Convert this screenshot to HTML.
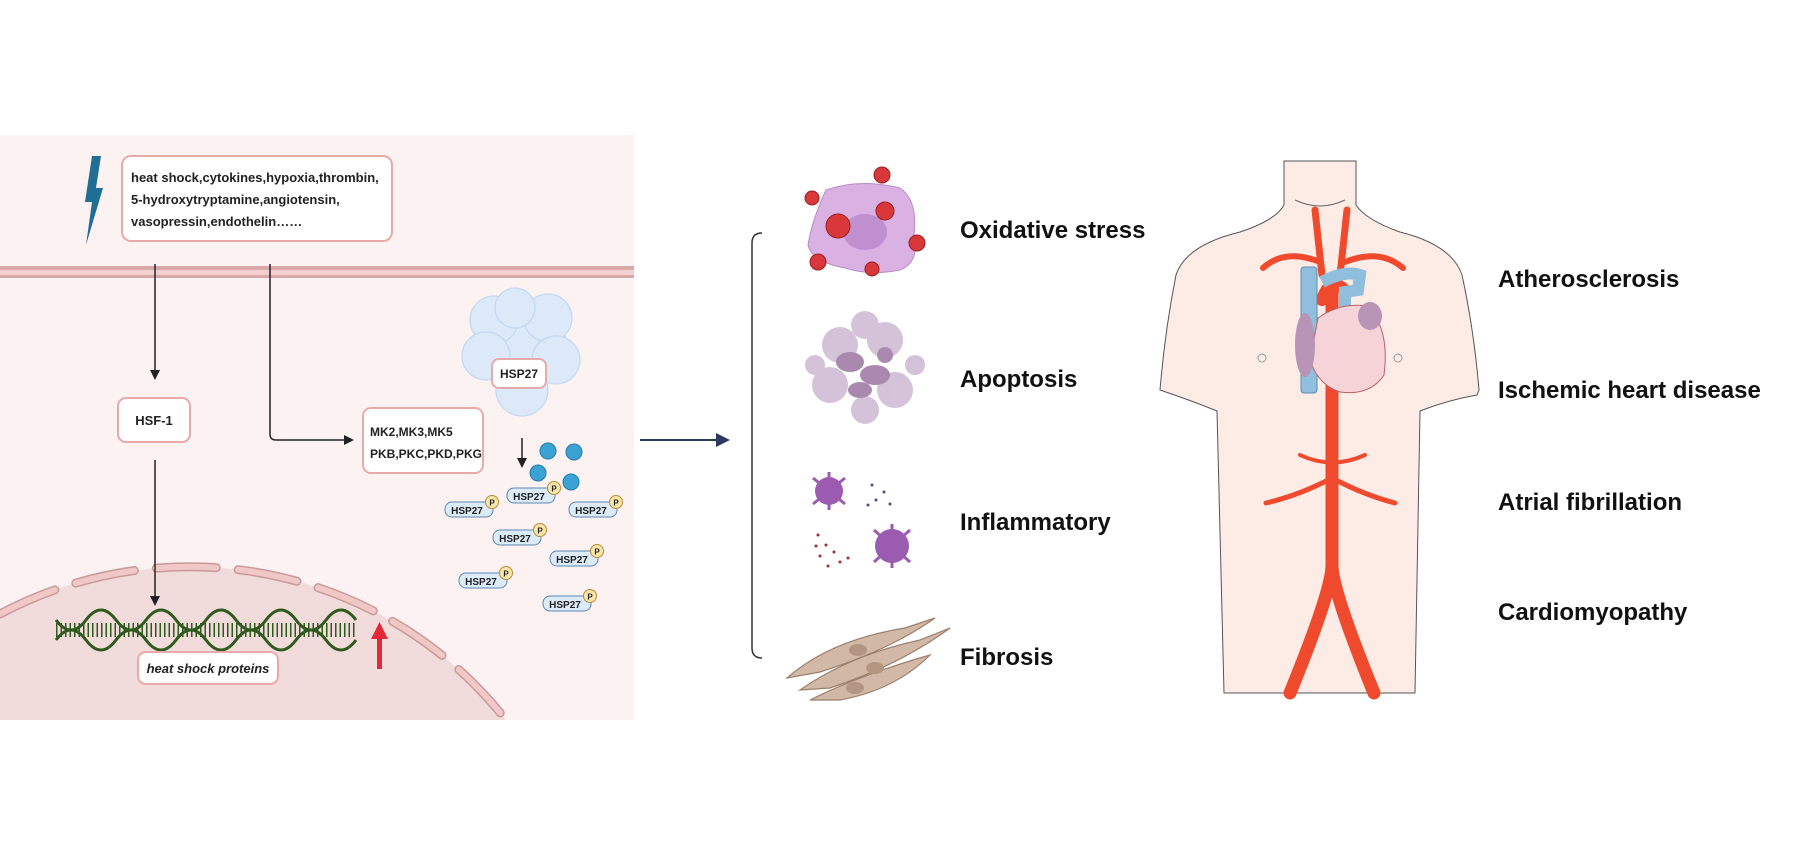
<!DOCTYPE html>
<html><head><meta charset="utf-8"><style>
html,body{margin:0;padding:0;background:#fff;width:1800px;height:866px;overflow:hidden}
svg{display:block}
text{font-family:"Liberation Sans",sans-serif}
</style></head><body>
<svg width="1800" height="866" viewBox="0 0 1800 866" xmlns="http://www.w3.org/2000/svg">
<defs>
<marker id="ah" markerWidth="10" markerHeight="10" refX="8" refY="5" orient="auto" markerUnits="userSpaceOnUse"><path d="M0,0 L10,5 L0,10 z" fill="#222"/></marker>
<marker id="ahn" markerWidth="14" markerHeight="14" refX="12" refY="7" orient="auto" markerUnits="userSpaceOnUse"><path d="M0,0 L14,7 L0,14 z" fill="#2b3a5e"/></marker>
</defs>
<rect x="0" y="135" width="634" height="585" fill="#fdf2f2"/>
<path d="M0,614 A400,395 0 0,1 506,720 L0,720 Z" fill="#f2dbdb"/>
<path d="M0,614 A400,395 0 0,1 506,720" fill="none" stroke="#c99a9a" stroke-width="9" stroke-dasharray="60 22" stroke-linecap="round"/>
<path d="M0,614 A400,395 0 0,1 506,720" fill="none" stroke="#f0c8c8" stroke-width="6" stroke-dasharray="60 22" stroke-linecap="round"/>
<rect x="0" y="266" width="634" height="4" fill="#d9a9a9"/>
<rect x="0" y="270" width="634" height="5" fill="#f4cfcf"/>
<rect x="0" y="275" width="634" height="3" fill="#d9a9a9"/>
<path d="M92,156 L101,156 L96,188 L103,188 L86,245 L92,202 L85,202 Z" fill="#1f6f95"/>
<rect x="122" y="156" width="270" height="85" rx="9" fill="#fff" stroke="#e8a9a9" stroke-width="2"/>
<text font-size="13" font-weight="bold" fill="#222"><tspan x="131" y="182">heat shock,cytokines,hypoxia,thrombin,</tspan><tspan x="131" y="204">5-hydroxytryptamine,angiotensin,</tspan><tspan x="131" y="226">vasopressin,endothelin……</tspan></text>
<line x1="155" y1="264" x2="155" y2="378" stroke="#222" stroke-width="1.5" marker-end="url(#ah)"/>
<rect x="118" y="398" width="72" height="44" rx="8" fill="#fff" stroke="#e8a9a9" stroke-width="2"/>
<text x="154" y="425" font-size="13" font-weight="bold" fill="#222" text-anchor="middle">HSF-1</text>
<line x1="155" y1="460" x2="155" y2="604" stroke="#222" stroke-width="1.5" marker-end="url(#ah)"/>
<path d="M270,264 L270,434 Q270,440 276,440 L352,440" fill="none" stroke="#222" stroke-width="1.5" marker-end="url(#ah)"/>
<rect x="363" y="408" width="120" height="65" rx="8" fill="#fff" stroke="#e8a9a9" stroke-width="2"/>
<text font-size="12" font-weight="bold" fill="#222"><tspan x="370" y="436">MK2,MK3,MK5</tspan><tspan x="370" y="458">PKB,PKC,PKD,PKG</tspan></text>
<g fill="#dbe9f8" stroke="#c3d9f0" stroke-width="1.2">
<circle cx="520" cy="344" r="46"/><circle cx="494" cy="320" r="24"/><circle cx="548" cy="318" r="24"/><circle cx="486" cy="356" r="24"/><circle cx="556" cy="360" r="24"/><circle cx="522" cy="390" r="26"/><circle cx="515" cy="308" r="20"/>
</g>
<rect x="492" y="359" width="54" height="29" rx="7" fill="#fff" stroke="#e8a9a9" stroke-width="2"/>
<text x="519" y="378" font-size="12" font-weight="bold" fill="#222" text-anchor="middle">HSP27</text>
<line x1="522" y1="438" x2="522" y2="466" stroke="#222" stroke-width="1.5" marker-end="url(#ah)"/>
<g fill="#3ba3d4" stroke="#1e7fb0"><circle cx="548" cy="451" r="8"/><circle cx="574" cy="452" r="8"/><circle cx="538" cy="473" r="8"/><circle cx="571" cy="482" r="8"/></g>
<g font-size="10" font-weight="bold" fill="#222">
<g transform="translate(469,509)"><rect x="-24" y="-7" width="48" height="15" rx="7" fill="#dcebf8" stroke="#5a86b0"/><text x="-2" y="5" text-anchor="middle">HSP27</text><circle cx="23" cy="-7" r="6.5" fill="#f7e6a8" stroke="#b98a3a"/><text x="23" y="-3.5" font-size="8" text-anchor="middle">P</text></g>
<g transform="translate(531,495)"><rect x="-24" y="-7" width="48" height="15" rx="7" fill="#dcebf8" stroke="#5a86b0"/><text x="-2" y="5" text-anchor="middle">HSP27</text><circle cx="23" cy="-7" r="6.5" fill="#f7e6a8" stroke="#b98a3a"/><text x="23" y="-3.5" font-size="8" text-anchor="middle">P</text></g>
<g transform="translate(593,509)"><rect x="-24" y="-7" width="48" height="15" rx="7" fill="#dcebf8" stroke="#5a86b0"/><text x="-2" y="5" text-anchor="middle">HSP27</text><circle cx="23" cy="-7" r="6.5" fill="#f7e6a8" stroke="#b98a3a"/><text x="23" y="-3.5" font-size="8" text-anchor="middle">P</text></g>
<g transform="translate(517,537)"><rect x="-24" y="-7" width="48" height="15" rx="7" fill="#dcebf8" stroke="#5a86b0"/><text x="-2" y="5" text-anchor="middle">HSP27</text><circle cx="23" cy="-7" r="6.5" fill="#f7e6a8" stroke="#b98a3a"/><text x="23" y="-3.5" font-size="8" text-anchor="middle">P</text></g>
<g transform="translate(574,558)"><rect x="-24" y="-7" width="48" height="15" rx="7" fill="#dcebf8" stroke="#5a86b0"/><text x="-2" y="5" text-anchor="middle">HSP27</text><circle cx="23" cy="-7" r="6.5" fill="#f7e6a8" stroke="#b98a3a"/><text x="23" y="-3.5" font-size="8" text-anchor="middle">P</text></g>
<g transform="translate(483,580)"><rect x="-24" y="-7" width="48" height="15" rx="7" fill="#dcebf8" stroke="#5a86b0"/><text x="-2" y="5" text-anchor="middle">HSP27</text><circle cx="23" cy="-7" r="6.5" fill="#f7e6a8" stroke="#b98a3a"/><text x="23" y="-3.5" font-size="8" text-anchor="middle">P</text></g>
<g transform="translate(567,603)"><rect x="-24" y="-7" width="48" height="15" rx="7" fill="#dcebf8" stroke="#5a86b0"/><text x="-2" y="5" text-anchor="middle">HSP27</text><circle cx="23" cy="-7" r="6.5" fill="#f7e6a8" stroke="#b98a3a"/><text x="23" y="-3.5" font-size="8" text-anchor="middle">P</text></g>
</g>
<g stroke="#2f5a1e" stroke-width="3" fill="none">
<path d="M56,620 q15,20 30,0 t30,0 t30,0 t30,0 t30,0 t30,0 t30,0 t30,0 t30,0 t30,0"/>
<path d="M56,640 q15,-20 30,0 t30,0 t30,0 t30,0 t30,0 t30,0 t30,0 t30,0 t30,0 t30,0"/>
</g>
<line x1="56" y1="630" x2="356" y2="630" stroke="#2f5a1e" stroke-width="14" stroke-dasharray="1.5 3"/>
<rect x="138" y="652" width="140" height="32" rx="8" fill="#fff" stroke="#e8a9a9" stroke-width="2"/>
<text x="208" y="673" font-size="13" font-weight="bold" font-style="italic" fill="#222" text-anchor="middle">heat shock proteins</text>
<rect x="377" y="635" width="5" height="34" fill="#e3293a"/><path d="M371,639 L379.5,622 L388,639 Z" fill="#e3293a"/>
<line x1="640" y1="440" x2="728" y2="440" stroke="#2b3a5e" stroke-width="2" marker-end="url(#ahn)"/>
<path d="M762,233 Q752,233 752,243 L752,648 Q752,658 762,658" fill="none" stroke="#333" stroke-width="1.5"/>
<path d="M826,190 Q860,178 900,188 Q918,200 914,235 Q920,262 900,270 Q870,276 845,268 Q812,262 808,245 Q812,220 826,190 Z" fill="#d9b1e3" stroke="#b98cc8"/>
<ellipse cx="865" cy="232" rx="22" ry="18" fill="#bf8fd0"/>
<g fill="#d8383a" stroke="#9c1f22">
<circle cx="812" cy="198" r="7"/><circle cx="882" cy="175" r="8"/><circle cx="838" cy="226" r="12"/><circle cx="885" cy="211" r="9"/><circle cx="917" cy="243" r="8"/><circle cx="818" cy="262" r="8"/><circle cx="872" cy="269" r="7"/>
</g>
<g fill="#c9b4cf" opacity="0.8"><circle cx="840" cy="345" r="18"/><circle cx="885" cy="340" r="18"/><circle cx="830" cy="385" r="18"/><circle cx="895" cy="390" r="18"/><circle cx="865" cy="410" r="14"/><circle cx="865" cy="325" r="14"/><circle cx="815" cy="365" r="10"/><circle cx="915" cy="365" r="10"/></g>
<g fill="#a98aae"><ellipse cx="850" cy="362" rx="14" ry="10"/><ellipse cx="875" cy="375" rx="15" ry="10"/><ellipse cx="860" cy="390" rx="12" ry="8"/><circle cx="885" cy="355" r="8"/></g>
<g fill="#9a5bb0"><circle cx="829" cy="491" r="14"/><circle cx="892" cy="546" r="17"/></g>
<g stroke="#9a5bb0" stroke-width="3"><line x1="813" y1="478" x2="845" y2="504"/><line x1="845" y1="478" x2="813" y2="504"/><line x1="829" y1="472" x2="829" y2="510"/><line x1="874" y1="530" x2="910" y2="562"/><line x1="910" y1="530" x2="874" y2="562"/><line x1="892" y1="524" x2="892" y2="568"/></g>
<g fill="#6a3d8c"><circle cx="872" cy="485" r="1.5"/><circle cx="884" cy="492" r="1.5"/><circle cx="876" cy="500" r="1.5"/><circle cx="890" cy="504" r="1.5"/><circle cx="868" cy="505" r="1.5"/></g>
<g fill="#a8282c"><circle cx="818" cy="535" r="1.5"/><circle cx="826" cy="545" r="1.5"/><circle cx="820" cy="556" r="1.5"/><circle cx="834" cy="552" r="1.5"/><circle cx="840" cy="562" r="1.5"/><circle cx="828" cy="566" r="1.5"/><circle cx="848" cy="558" r="1.5"/><circle cx="816" cy="546" r="1.5"/></g>
<g fill="#d2b8a6" stroke="#9c7f6b" stroke-width="1.2">
<path d="M787,678 Q830,640 905,628 L935,618 Q890,650 820,672 Z"/>
<path d="M800,690 Q850,655 920,640 L950,628 Q900,665 830,688 Z"/>
<path d="M810,700 Q860,675 930,655 Q895,690 840,700 Z"/>
</g>
<g fill="#b39682"><ellipse cx="858" cy="650" rx="9" ry="6"/><ellipse cx="875" cy="668" rx="9" ry="6"/><ellipse cx="855" cy="688" rx="9" ry="6"/></g>
<g font-size="24" font-weight="bold" fill="#111">
<text x="960" y="238">Oxidative stress</text>
<text x="960" y="387">Apoptosis</text>
<text x="960" y="530">Inflammatory</text>
<text x="960" y="665">Fibrosis</text>
<text x="1498" y="287">Atherosclerosis</text>
<text x="1498" y="398">Ischemic heart disease</text>
<text x="1498" y="510">Atrial fibrillation</text>
<text x="1498" y="620">Cardiomyopathy</text>
</g>
<path d="M1284,161 L1356,161 L1356,205 Q1366,220 1400,232 Q1452,245 1462,275 Q1474,330 1479,390 L1477,395 Q1448,400 1420,411 L1415,693 L1224,693 L1217,411 Q1190,400 1160,390 Q1165,330 1176,275 Q1186,245 1240,232 Q1276,220 1284,205 Z" fill="#fcece5" stroke="#555" stroke-width="1"/>
<path d="M1295,200 Q1320,212 1345,200" fill="none" stroke="#666"/>
<circle cx="1262" cy="358" r="4" fill="none" stroke="#999"/><circle cx="1398" cy="358" r="4" fill="none" stroke="#999"/>
<g fill="none" stroke="#f04a2e" stroke-linecap="round">
<path d="M1315,210 L1322,275" stroke-width="7"/><path d="M1347,210 L1340,275" stroke-width="7"/>
<path d="M1263,268 Q1285,248 1320,262" stroke-width="6"/><path d="M1403,268 Q1380,248 1345,262" stroke-width="6"/>
<path d="M1322,300 Q1330,275 1345,290 L1345,300" stroke-width="12"/>
<path d="M1332,290 L1332,565 Q1332,590 1290,693" stroke-width="13"/>
<path d="M1332,565 Q1332,590 1374,693" stroke-width="13"/>
<path d="M1300,455 Q1332,470 1365,455" stroke-width="4"/>
<path d="M1266,503 Q1300,495 1332,478 Q1364,495 1395,503" stroke-width="5"/>
</g>
<rect x="1301" y="267" width="16" height="126" rx="3" fill="#8fbfdc" stroke="#5a8fb0"/>
<path d="M1322,282 Q1345,270 1360,275 L1358,290 L1345,292 L1345,330" fill="none" stroke="#8fbfdc" stroke-width="12"/>
<path d="M1318,318 Q1340,302 1368,306 Q1390,330 1384,375 Q1370,396 1340,392 Q1318,385 1310,360 Z" fill="#f6d3d7" stroke="#b96068"/>
<ellipse cx="1305" cy="345" rx="10" ry="32" fill="#b894b6"/>
<ellipse cx="1370" cy="316" rx="12" ry="14" fill="#b894b6"/>
</svg>
</body></html>
